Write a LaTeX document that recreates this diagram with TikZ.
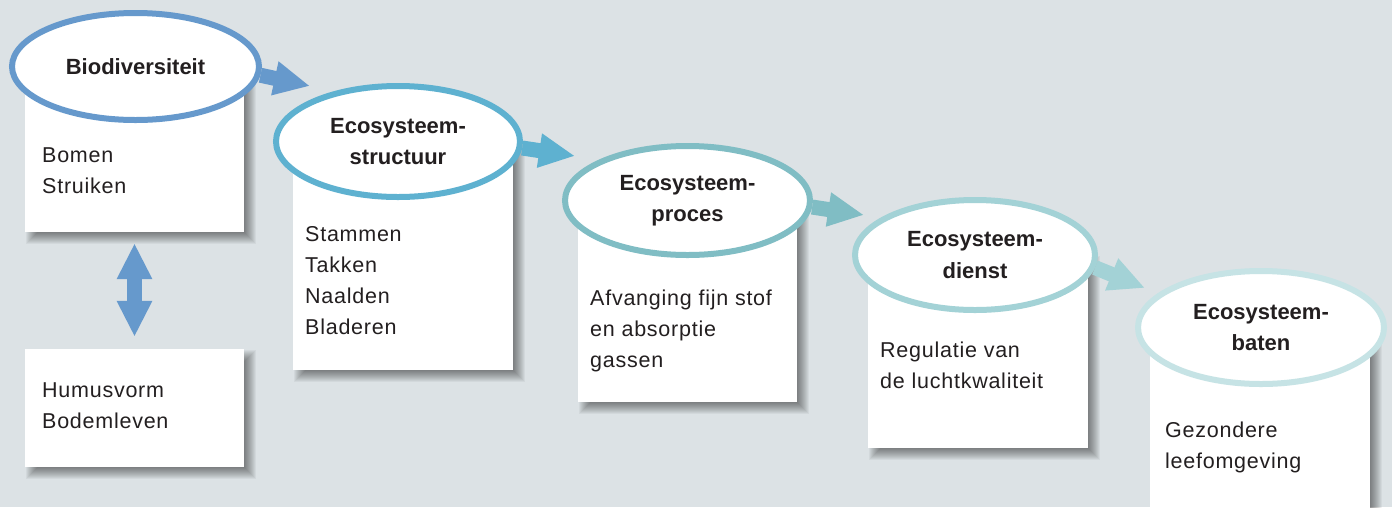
\documentclass[tikz,border=0pt]{standalone}
\usepackage{fontspec}
\setmainfont{Liberation Sans}
\newfontfamily\bodyfont[LetterSpace=3.5]{Liberation Sans}
\usetikzlibrary{shapes.geometric,arrows.meta,calc}
\definecolor{bg}{HTML}{DCE2E5}
\definecolor{txt}{HTML}{231F20}
\definecolor{cA}{HTML}{6699CC}
\definecolor{cB}{HTML}{5EB1D0}
\definecolor{cC}{HTML}{80BDC4}
\definecolor{cD}{HTML}{A3D2D6}
\definecolor{cE}{HTML}{C6E3E5}
\begin{document}
\begin{tikzpicture}[x=1pt,y=-1pt,
  box/.style={rectangle, fill=white, draw=none, inner sep=0pt},
  shadowlayer/.style={fill=black, opacity=0.045},
  oval/.style={ellipse, fill=white, line width=6pt, inner sep=0pt, align=center,
    font=\fontsize{22}{31.5}\selectfont\bfseries, text=txt},
  body/.style={anchor=north west, inner sep=0pt, align=left,
    font=\fontsize{21.5}{31}\selectfont\bodyfont, text=txt},
  blockarrow/.style={line width=15pt, -{Triangle[length=36pt,width=32pt]}},
  dblarrow/.style={line width=15pt, {Triangle[length=36pt,width=33pt]}-{Triangle[length=36pt,width=33pt]}}
]
\fill[bg] (0,0) rectangle (1392,507);
\useasboundingbox (0,0) rectangle (1392,507);
\clip (0,0) rectangle (1392,507);

% box positions (invisible first, for shadows)
\path (134.5,149) coordinate (q1) (134.5,408) coordinate (qh) (403,255.5) coordinate (q2)
      (687.5,301) coordinate (q3) (978,351.5) coordinate (q4) (1260,433.5) coordinate (q5);
\node[box, fill=none, minimum width=219, minimum height=166] (s1) at (q1) {};
\node[box, fill=none, minimum width=219, minimum height=118] (sh) at (qh) {};
\node[box, fill=none, minimum width=220, minimum height=229] (s2) at (q2) {};
\node[box, fill=none, minimum width=219, minimum height=202] (s3) at (q3) {};
\node[box, fill=none, minimum width=220, minimum height=193] (s4) at (q4) {};
\node[box, fill=none, minimum width=220, minimum height=213] (s5) at (q5) {};

% soft shadows
\foreach \n in {s1,sh,s2,s3,s4,s5}{
  \foreach \k in {1,...,12}{
    \fill[shadowlayer] ($(\n.north west)+(13-\k,13-\k)$) rectangle ($(\n.south east)+(\k,\k)$);
  }
}

% boxes
\node[box, minimum width=219, minimum height=166] (b1) at (q1) {};
\node[box, minimum width=219, minimum height=118] (bh) at (qh) {};
\node[box, minimum width=220, minimum height=229] (b2) at (q2) {};
\node[box, minimum width=219, minimum height=202] (b3) at (q3) {};
\node[box, minimum width=220, minimum height=193] (b4) at (q4) {};
\node[box, minimum width=220, minimum height=213] (b5) at (q5) {};

% box texts
\node[body] (t1) at (42,147.5) {Bomen\\Struiken};
\node[body] (th) at (42,382.5) {Humusvorm\\Bodemleven};
\node[body] (t2) at (305,226.5) {Stammen\\Takken\\Naalden\\Bladeren};
\node[body] (t3) at (590,289.5) {Afvanging fijn stof\\en absorptie\\gassen};
\node[body] (t4) at (880,341.5) {Regulatie van\\de luchtkwaliteit};
\node[body] (t5) at (1165,421.5) {Gezondere\\leefomgeving};

% ellipses (positions)
\path (135.5,66.5) coordinate (p1) (398,141.5) coordinate (p2) (687.5,200.5) coordinate (p3)
      (975,255) coordinate (p4) (1261,327.5) coordinate (p5);
\coordinate (tip1) at (310,86);
\coordinate (tip2) at (575,156);
\coordinate (tip3) at (864,215);
\coordinate (tip4) at (1145,288);

\node[oval, draw=none, fill=none, minimum width=247, minimum height=107] (e1) at (p1) {};
\node[oval, draw=none, fill=none, minimum width=244, minimum height=111] (e2) at (p2) {};
\node[oval, draw=none, fill=none, minimum width=245, minimum height=109] (e3) at (p3) {};
\node[oval, draw=none, fill=none, minimum width=240, minimum height=110] (e4) at (p4) {};

% arrows
\draw[dblarrow, cA, shorten <=11pt, shorten >=12pt] (b1.south) -- (bh.north);
\draw[blockarrow, cA] (e1.-4) -- (tip1);
\draw[blockarrow, cB] (e2.-3) -- (tip2);
\draw[blockarrow, cC] (e3.-3) -- (tip3);
\draw[blockarrow, cD] (e4.-6) -- (tip4);

% ellipses
\node[oval, draw=cA, minimum width=247, minimum height=107] (E1) at (p1) {Biodiversiteit};
\node[oval, draw=cB, minimum width=244, minimum height=111] (E2) at (p2) {Ecosysteem-\\structuur};
\node[oval, draw=cC, minimum width=245, minimum height=109] (E3) at (p3) {Ecosysteem-\\proces};
\node[oval, draw=cD, minimum width=240, minimum height=110] (E4) at (p4) {Ecosysteem-\\dienst};
\node[oval, draw=cE, minimum width=246, minimum height=113] (E5) at (p5) {Ecosysteem-\\baten};
\end{tikzpicture}
\end{document}
